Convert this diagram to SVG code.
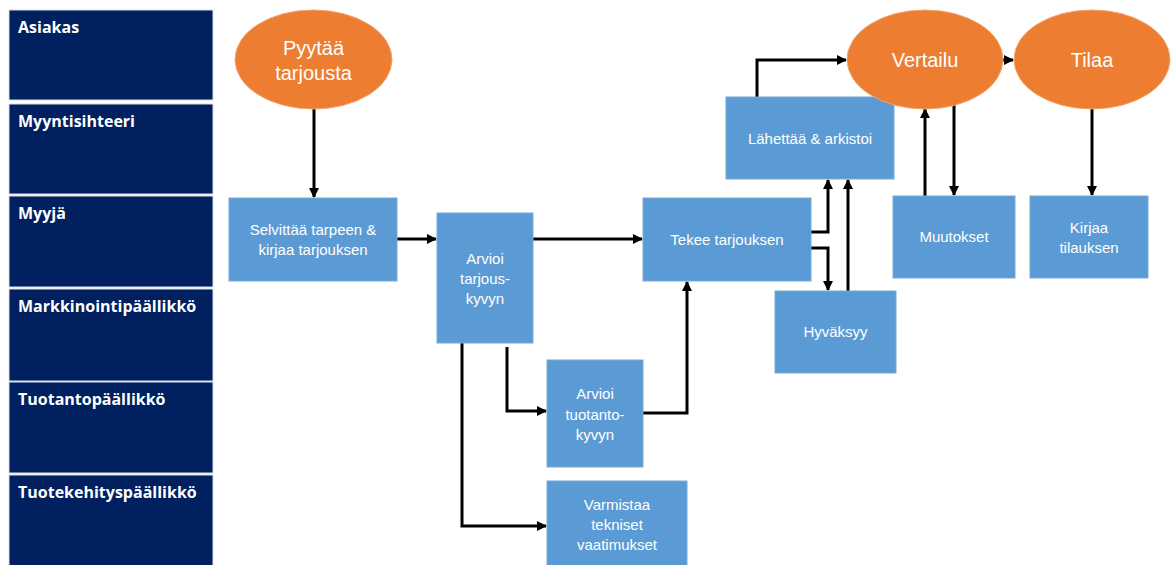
<svg xmlns="http://www.w3.org/2000/svg" width="1175" height="565" viewBox="0 0 1175 565">
  <style>
    .lane { fill: #002060; stroke: #d9dde6; stroke-width: 1; }
    .lane-label { font-family: "Open Sans", "Liberation Sans", sans-serif; font-weight: bold; font-size: 16px; fill: #ffffff; }
    .box { fill: #5b9bd5; stroke: #7aa9d8; stroke-width: 1; }
    .oval { fill: #ed7d31; stroke: #f3a36c; stroke-width: 1; }
    .t { font-family: "Liberation Sans", sans-serif; font-size: 15px; fill: #ffffff; text-anchor: middle; }
    .to { font-family: "Liberation Sans", sans-serif; font-size: 20px; fill: #ffffff; text-anchor: middle; }
    .conn { fill: none; stroke: #000000; stroke-width: 3; marker-end: url(#arrow); }
  </style>
  <defs>
    <marker id="arrow" viewBox="0 0 10 10" refX="9" refY="5" markerUnits="userSpaceOnUse" markerWidth="11" markerHeight="10" orient="auto">
      <path d="M0,0 L10,5 L0,10 Z" fill="#000000"/>
    </marker>
  </defs>

  <rect width="1175" height="565" fill="#ffffff"/>

  <!-- swimlanes -->
  <g id="lanes">
    <g id="lane-asiakas"><rect class="lane" x="9" y="10" width="204" height="90"/><text class="lane-label" x="18" y="33">Asiakas</text></g>
    <g id="lane-myyntisihteeri"><rect class="lane" x="9" y="104" width="204" height="90"/><text class="lane-label" x="18" y="127">Myyntisihteeri</text></g>
    <g id="lane-myyja"><rect class="lane" x="9" y="196" width="204" height="91"/><text class="lane-label" x="18" y="219">Myyjä</text></g>
    <g id="lane-markkinointi"><rect class="lane" x="9" y="289" width="204" height="92"/><text class="lane-label" x="18" y="312">Markkinointipäällikkö</text></g>
    <g id="lane-tuotanto"><rect class="lane" x="9" y="382" width="204" height="91"/><text class="lane-label" x="18" y="405">Tuotantopäällikkö</text></g>
    <g id="lane-tuotekehitys"><rect class="lane" x="9" y="475" width="204" height="95"/><text class="lane-label" x="18" y="498">Tuotekehityspäällikkö</text></g>
  </g>

  <!-- connectors -->
  <g id="connectors">
    <path class="conn" d="M314,109 L314,197"/>
    <path class="conn" d="M397,239 L436,239"/>
    <path class="conn" d="M533,239 L642,239"/>
    <path class="conn" d="M507,347 L507,411 L546,411"/>
    <path class="conn" d="M462,343 L462,526 L546,526"/>
    <path class="conn" d="M643,413 L687,413 L687,282"/>
    <path class="conn" d="M811,232 L828,232 L828,180"/>
    <path class="conn" d="M811,248 L828,248 L828,290"/>
    <path class="conn" d="M848,291 L848,180"/>
    <path class="conn" d="M757,97 L757,60 L846,60"/>
    <path class="conn" d="M1003,60 L1013,60"/>
    <path class="conn" d="M925,196 L925,109"/>
    <path class="conn" d="M954,105 L954,195"/>
    <path class="conn" d="M1092,108 L1092,195"/>
  </g>

  <!-- process nodes -->
  <g id="pyytaa-tarjousta">
    <ellipse class="oval" cx="313.5" cy="59.5" rx="78.5" ry="49.5"/>
    <text class="to" x="313.5" y="55">Pyytää</text>
    <text class="to" x="313.5" y="80">tarjousta</text>
  </g>
  <g id="selvittaa">
    <rect class="box" x="229" y="198" width="168" height="83"/>
    <text class="t" x="313" y="235">Selvittää tarpeen &amp;</text>
    <text class="t" x="313" y="255">kirjaa tarjouksen</text>
  </g>
  <g id="arvioi-tarjouskyvyn">
    <rect class="box" x="437" y="213" width="96" height="130"/>
    <text class="t" x="485" y="264">Arvioi</text>
    <text class="t" x="485" y="284">tarjous-</text>
    <text class="t" x="485" y="304">kyvyn</text>
  </g>
  <g id="tekee-tarjouksen">
    <rect class="box" x="643" y="198" width="168" height="83"/>
    <text class="t" x="727" y="245">Tekee tarjouksen</text>
  </g>
  <g id="lahettaa-arkistoi">
    <rect class="box" x="726" y="97" width="168" height="82"/>
    <text class="t" x="810" y="144">Lähettää &amp; arkistoi</text>
  </g>
  <g id="hyvaksyy">
    <rect class="box" x="775" y="291" width="121" height="82"/>
    <text class="t" x="835.5" y="337">Hyväksyy</text>
  </g>
  <g id="vertailu">
    <ellipse class="oval" cx="925" cy="59.5" rx="78" ry="49.5"/>
    <text class="to" x="925" y="67">Vertailu</text>
  </g>
  <g id="tilaa">
    <ellipse class="oval" cx="1092" cy="59.5" rx="78" ry="49.5"/>
    <text class="to" x="1092" y="67">Tilaa</text>
  </g>
  <g id="muutokset">
    <rect class="box" x="893" y="196" width="122" height="82"/>
    <text class="t" x="954" y="242">Muutokset</text>
  </g>
  <g id="kirjaa-tilauksen">
    <rect class="box" x="1030" y="196" width="118" height="82"/>
    <text class="t" x="1089" y="233">Kirjaa</text>
    <text class="t" x="1089" y="253">tilauksen</text>
  </g>
  <g id="arvioi-tuotantokyvyn">
    <rect class="box" x="547" y="360" width="96" height="107"/>
    <text class="t" x="595" y="399">Arvioi</text>
    <text class="t" x="595" y="420">tuotanto-</text>
    <text class="t" x="595" y="440">kyvyn</text>
  </g>
  <g id="varmistaa">
    <rect class="box" x="547" y="481" width="140" height="90"/>
    <text class="t" x="617" y="510">Varmistaa</text>
    <text class="t" x="617" y="530">tekniset</text>
    <text class="t" x="617" y="550">vaatimukset</text>
  </g>
</svg>
